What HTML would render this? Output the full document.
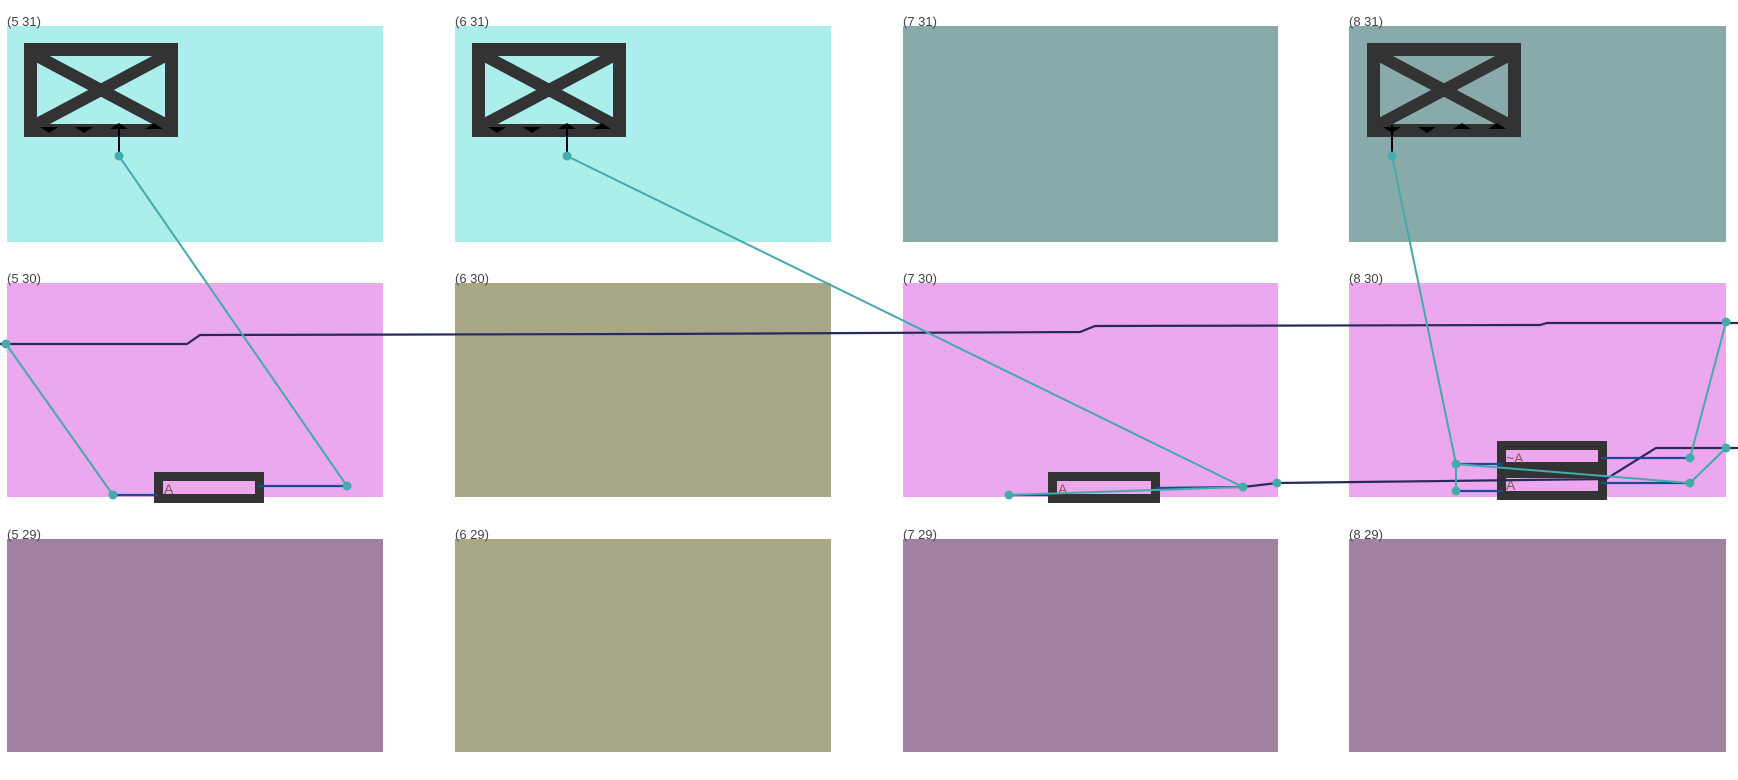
<!DOCTYPE html>
<html><head><meta charset="utf-8"><style>
html,body{margin:0;padding:0;background:#fff;width:1738px;height:780px;overflow:hidden}
svg text{font-family:"Liberation Sans",sans-serif;font-size:13px;fill:#444}
</style></head><body>
<svg width="1738" height="780" xmlns="http://www.w3.org/2000/svg">
<g>
<rect x="7" y="26" width="376" height="216" fill="#abeeec"/>
<rect x="455" y="26" width="376" height="216" fill="#abeeec"/>
<rect x="903" y="26" width="375" height="216" fill="#88aaaa"/>
<rect x="1349" y="26" width="377" height="216" fill="#88aaaa"/>
<rect x="7" y="283" width="376" height="214" fill="#eca8ee"/>
<rect x="455" y="283" width="376" height="214" fill="#a8a888"/>
<rect x="903" y="283" width="375" height="214" fill="#eca8ee"/>
<rect x="1349" y="283" width="377" height="214" fill="#eca8ee"/>
<rect x="7" y="539" width="376" height="213" fill="#a282a2"/>
<rect x="455" y="539" width="376" height="213" fill="#a8a888"/>
<rect x="903" y="539" width="375" height="213" fill="#a282a2"/>
<rect x="1349" y="539" width="377" height="213" fill="#a282a2"/>
</g>
<g>
<text x="7" y="26">(5 31)</text><text x="455" y="26">(6 31)</text><text x="903" y="26">(7 31)</text><text x="1349" y="26">(8 31)</text>
<text x="7" y="283">(5 30)</text><text x="455" y="283">(6 30)</text><text x="903" y="283">(7 30)</text><text x="1349" y="283">(8 30)</text>
<text x="7" y="539">(5 29)</text><text x="455" y="539">(6 29)</text><text x="903" y="539">(7 29)</text><text x="1349" y="539">(8 29)</text>
</g>
<defs>
<g id="xb">
<rect x="6.5" y="6.5" width="141" height="81" fill="none" stroke="#333" stroke-width="13"/>
<line x1="13" y1="13" x2="141" y2="81" stroke="#333" stroke-width="12"/>
<line x1="141" y1="13" x2="13" y2="81" stroke="#333" stroke-width="12"/>
<path d="M16 84h18l-9 6z M51 84h18l-9 6z M86 86h18l-9-6z M121 86h18l-9-6z" fill="#000"/>
</g>
</defs>
<use href="#xb" x="24" y="43"/>
<use href="#xb" x="472" y="43"/>
<use href="#xb" x="1367" y="43"/>
<g stroke="#000" stroke-width="2">
<line x1="119" y1="125" x2="119" y2="156"/><line x1="567" y1="125" x2="567" y2="156"/><line x1="1392" y1="125" x2="1392" y2="156"/>
</g>
<!-- small boxes -->
<g fill="none" stroke="#333">
<rect x="158.5" y="476.5" width="101" height="22" stroke-width="9"/>
<rect x="1052.5" y="476.5" width="103" height="22" stroke-width="9"/>
<rect x="1501.5" y="445.5" width="101" height="50" stroke-width="9"/>
</g>
<rect x="1506" y="462" width="92" height="16" fill="#333"/>
<g style="font-size:14px" fill="#744">
<text x="164" y="494" style="fill:#855;font-size:14px">A</text>
<text x="1058" y="494" style="fill:#855;font-size:14px">A</text>
<text x="1506" y="463" style="fill:#855;font-size:14px">~A</text>
<text x="1506" y="490" style="fill:#855;font-size:14px">A</text>
</g>
<!-- dark long lines -->
<g fill="none" stroke="#2a2a5a" stroke-width="2.2">
<polyline points="0,344 187,344 200,335 648,334 1080,332 1095,326 1540,325 1547,323 1738,323"/>
<polyline points="1243,487 1277,483 1606,479 1656,448 1738,448"/>
</g>
<!-- blue short lines -->
<g stroke="#1a4a99" stroke-width="2.2">
<line x1="113" y1="495" x2="158" y2="495"/>
<line x1="258" y1="486" x2="347" y2="486"/>
<line x1="1009" y1="495" x2="1050" y2="495"/>
<line x1="1156" y1="488" x2="1243" y2="487"/>
<line x1="1456" y1="464" x2="1503" y2="464"/>
<line x1="1456" y1="491" x2="1503" y2="491"/>
<line x1="1601" y1="458" x2="1690" y2="458"/>
<line x1="1601" y1="483" x2="1690" y2="483"/>
</g>
<!-- teal connectors -->
<g fill="none" stroke="#44aaaa" stroke-width="2">
<line x1="6" y1="344" x2="113" y2="495"/>
<line x1="119" y1="156" x2="347" y2="486"/>
<line x1="567" y1="156" x2="1243" y2="487"/>
<line x1="1009" y1="495" x2="1243" y2="487"/>
<polyline points="1392,156 1456,464 1456,491"/>
<line x1="1456" y1="464" x2="1690" y2="483"/>
<polyline points="1690,483 1726,448"/>
<polyline points="1690,458 1726,322"/>
</g>
<g fill="#44aaaa">
<circle cx="119" cy="156" r="4.5"/><circle cx="567" cy="156" r="4.5"/><circle cx="1392" cy="156" r="4.5"/>
<circle cx="6" cy="344" r="4.5"/><circle cx="113" cy="495" r="4.5"/><circle cx="347" cy="486" r="4.5"/>
<circle cx="1009" cy="495" r="4.5"/><circle cx="1243" cy="487" r="4.5"/><circle cx="1277" cy="483" r="4.5"/>
<circle cx="1456" cy="464" r="4.5"/><circle cx="1456" cy="491" r="4.5"/><circle cx="1690" cy="458" r="4.5"/>
<circle cx="1690" cy="483" r="4.5"/><circle cx="1726" cy="322" r="4.5"/><circle cx="1726" cy="448" r="4.5"/>
</g>
</svg>
</body></html>
